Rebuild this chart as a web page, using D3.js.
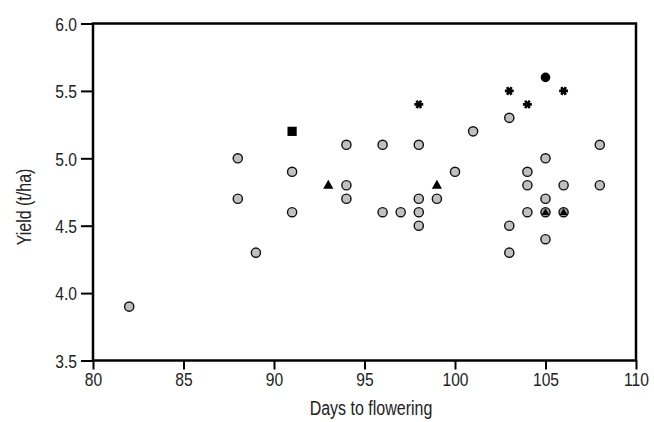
<!DOCTYPE html>
<html>
<head>
<meta charset="utf-8">
<script src="https://cdn.jsdelivr.net/npm/d3@7"></script>
<style>
  html, body { margin: 0; padding: 0; background: #fff; }
  svg { display: block; }
  text { font-family: "Liberation Sans", Arial, sans-serif; fill: #222; }
</style>
</head>
<body>
<svg id="chart" width="654" height="422"></svg>
<script>
// ---- data ----
const xTicks = [80, 85, 90, 95, 100, 105, 110];
const yTicks = [3.5, 4.0, 4.5, 5.0, 5.5, 6.0];
const xLabel = "Days to flowering";
const yLabel = "Yield (t/ha)";

// grey circles
const circleDays  = [82, 88, 88, 89, 91, 91, 94, 94, 94, 96, 96, 97, 98, 98, 98, 98, 99, 100, 101, 103, 103, 103, 104, 104, 104, 105, 105, 105, 106, 108, 108];
const circleYield = [3.9, 5.0, 4.7, 4.3, 4.9, 4.6, 5.1, 4.8, 4.7, 5.1, 4.6, 4.6, 5.1, 4.7, 4.6, 4.5, 4.7, 4.9, 5.2, 5.3, 4.5, 4.3, 4.9, 4.8, 4.6, 5.0, 4.7, 4.4, 4.8, 5.1, 4.8];
// black squares
const squareDays  = [91];
const squareYield = [5.2];
// black triangles
const triDays  = [93, 99];
const triYield = [4.8, 4.8];
// asterisks
const starDays  = [98, 103, 104, 106];
const starYield = [5.4, 5.5, 5.4, 5.5];
// black circles
const dotDays  = [105];
const dotYield = [5.6];
// grey circle with black triangle
const ctDays  = [105, 106];
const ctYield = [4.6, 4.6];

// ---- layout ----
const svg = d3.select("#chart");
const margin = { left: 93, right: 18, top: 23.5, bottom: 61.5 };
const W = 654, H = 422;
const x = d3.scaleLinear().domain([80, 110]).range([margin.left, W - margin.right]);
const y = d3.scaleLinear().domain([3.5, 6.0]).range([H - margin.bottom, margin.top]);

const fontSize = 19;
const narrow = 0.82;

// frame
svg.append("rect")
  .attr("x", x(80)).attr("y", y(6.0))
  .attr("width", x(110) - x(80)).attr("height", y(3.5) - y(6.0))
  .attr("fill", "none").attr("stroke", "#000").attr("stroke-width", 2.5);

// axes
const xAxis = svg.append("g")
  .attr("transform", `translate(0,${y(3.5)})`)
  .call(d3.axisBottom(x).tickValues(xTicks).tickSize(9).tickPadding(3).tickFormat(d3.format("d")));
const yAxis = svg.append("g")
  .attr("transform", `translate(${x(80)},0)`)
  .call(d3.axisLeft(y).tickValues(yTicks).tickSize(12).tickPadding(4).tickFormat(d3.format(".1f")));
[xAxis, yAxis].forEach(g => {
  g.attr("font-family", null).attr("font-size", null);
  g.select(".domain").remove();
  g.selectAll(".tick line").attr("stroke", "#000").attr("stroke-width", 2);
  g.selectAll(".tick text").attr("font-size", fontSize).attr("fill", "#222");
});
yAxis.selectAll(".tick text").attr("dy", "0.36em");
xAxis.selectAll(".tick text").attr("dy", "0.72em");

// axis titles
svg.append("text")
  .attr("x", 371).attr("y", 415)
  .attr("text-anchor", "middle").attr("font-size", 19.5)
  .text(xLabel);
svg.append("text")
  .attr("transform", "translate(31,207) rotate(-90)")
  .attr("text-anchor", "middle").attr("font-size", 19.5)
  .text(yLabel);

// condense all text horizontally (narrow typeface look)
svg.selectAll("text").each(function () {
  const w = this.getComputedTextLength();
  d3.select(this).attr("textLength", w * narrow).attr("lengthAdjust", "spacingAndGlyphs");
});

const pts = (xs, ys) => xs.map((d, i) => ({ d, v: ys[i] }));
const g = svg.append("g");

// grey circles
g.selectAll("circle.grey").data(pts(circleDays, circleYield)).join("circle")
  .attr("class", "grey")
  .attr("cx", p => x(p.d)).attr("cy", p => y(p.v)).attr("r", 4.6)
  .attr("fill", "#c0c0c0").attr("stroke", "#111").attr("stroke-width", 1.4);

// circle with triangle
g.selectAll("circle.ct").data(pts(ctDays, ctYield)).join("circle")
  .attr("class", "ct")
  .attr("cx", p => x(p.d)).attr("cy", p => y(p.v)).attr("r", 4.6)
  .attr("fill", "#999").attr("stroke", "#111").attr("stroke-width", 1.4);
g.selectAll("path.ctt").data(pts(ctDays, ctYield)).join("path")
  .attr("class", "ctt")
  .attr("transform", p => `translate(${x(p.d)},${y(p.v) + 0.5})`)
  .attr("d", d3.symbol(d3.symbolTriangle, 26)())
  .attr("fill", "#000");

// squares
g.selectAll("path.sq").data(pts(squareDays, squareYield)).join("path")
  .attr("class", "sq")
  .attr("transform", p => `translate(${x(p.d)},${y(p.v)})`)
  .attr("d", d3.symbol(d3.symbolSquare, 85)())
  .attr("fill", "#000");

// triangles
g.selectAll("path.tri").data(pts(triDays, triYield)).join("path")
  .attr("class", "tri")
  .attr("transform", p => `translate(${x(p.d)},${y(p.v) + 0.5})`)
  .attr("d", d3.symbol(d3.symbolTriangle, 45)())
  .attr("fill", "#000");

// asterisks
g.selectAll("path.star").data(pts(starDays, starYield)).join("path")
  .attr("class", "star")
  .attr("transform", p => `translate(${x(p.d)},${y(p.v)}) rotate(90)`)
  .attr("d", d3.symbol(d3.symbolAsterisk, 55)())
  .attr("fill", "none").attr("stroke", "#000").attr("stroke-width", 2.6);

// black dots
g.selectAll("circle.dot").data(pts(dotDays, dotYield)).join("circle")
  .attr("class", "dot")
  .attr("cx", p => x(p.d)).attr("cy", p => y(p.v)).attr("r", 4.8)
  .attr("fill", "#000");
</script>
</body>
</html>
